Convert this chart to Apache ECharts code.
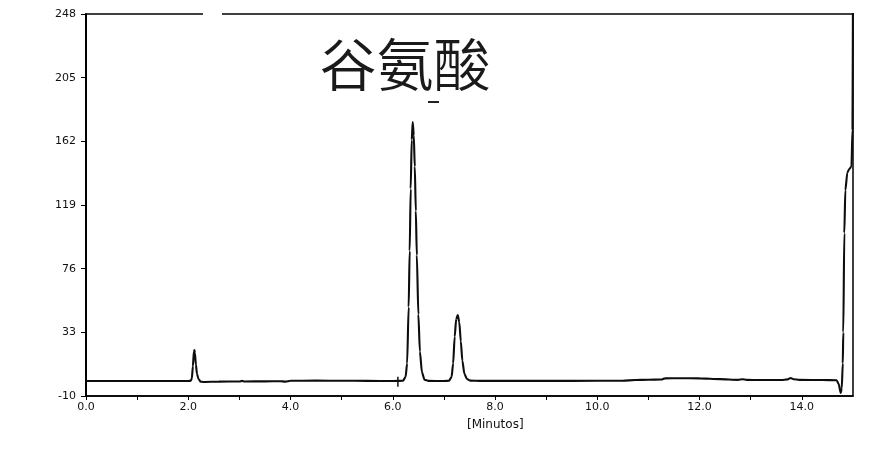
<!DOCTYPE html>
<html>
<head>
<meta charset="utf-8">
<script src="https://cdn.jsdelivr.net/npm/echarts@6/dist/echarts.min.js"></script>
<style>html,body{margin:0;padding:0;background:#fff;}#chart{width:894px;height:454px;}</style>
</head>
<body>
<div id="chart"></div>
<script>
// Retention time (minutes)
var times = [0.00, 0.50, 1.00, 1.50, 2.00, 2.05, 2.07, 2.09, 2.11, 2.12, 2.13, 2.15, 2.17, 2.20, 2.24, 2.30,
  2.60, 3.00, 3.05, 3.10, 3.50, 3.80, 3.90, 4.00, 4.50, 5.00, 5.50, 6.00, 6.20, 6.25, 6.28, 6.31, 6.33, 6.35,
  6.37, 6.39, 6.41, 6.43, 6.45, 6.47, 6.50, 6.53, 6.57, 6.62, 6.70, 7.00, 7.10, 7.15, 7.18, 7.21, 7.24, 7.27,
  7.30, 7.33, 7.36, 7.40, 7.45, 7.52, 7.70, 8.50, 9.50, 10.50, 10.74, 11.00, 11.25, 11.32, 11.60, 12.00, 12.40,
  12.75, 12.84, 12.92, 13.20, 13.60, 13.72, 13.78, 13.84, 13.95, 14.40, 14.68, 14.72, 14.76, 14.78, 14.80,
  14.81, 14.83, 14.85, 14.89, 14.93, 14.97, 14.99, 15.00];
// Detector response
var signal = [0.1, 0.1, 0.1, 0.1, 0.1, 0.3, 2, 10, 20, 21, 19, 11, 5, 1.5, -0.3, -0.5,
  -0.3, -0.2, 0.2, -0.2, -0.1, 0.0, -0.3, 0.3, 0.4, 0.3, 0.2, 0.1, 0.3, 3, 12, 50, 88, 130,
  163, 175, 166, 145, 115, 85, 45, 20, 6, 1, 0.2, 0.1, 0.3, 3, 12, 30, 42, 44.7,
  40, 27, 14, 5, 1.5, 0.4, 0.2, 0.2, 0.2, 0.3, 0.8, 1.0, 1.1, 1.9, 2.0, 1.9, 1.4,
  0.9, 1.3, 0.9, 0.8, 0.8, 1.2, 2.2, 1.3, 0.9, 0.8, 0.6, -2, -8, -5, 12,
  33, 100, 129, 141, 143.5, 145, 170, 270];
// Integration marker
var markerTimes = [6.10, 6.10];
var markerValues = [3.0, -3.7];
// Axis ticks
var yTicks = [-10, 33, 76, 119, 162, 205, 248];
var xLabelTicks = [0, 2, 4, 6, 8, 10, 12, 14];
var xMinorTicks = [0, 1, 2, 3, 4, 5, 6, 7, 8, 9, 10, 11, 12, 13, 14];
var titleText = '谷氨酸';
var xName = '[Minutos]';

var curve = times.map(function (t, i) { return [t, signal[i]]; });
var marker = markerTimes.map(function (t, i) { return [t, markerValues[i]]; });

var chart = echarts.init(document.getElementById('chart'), null, {renderer: 'canvas'});
var labelFont = {fontFamily: 'DejaVu Sans', fontSize: 11, color: '#111'};
chart.setOption({
  animation: false,
  backgroundColor: '#fff',
  grid: {left: 86, right: 41, top: 14, bottom: 58, show: true, borderColor: '#000', borderWidth: 1.5, backgroundColor: 'transparent'},
  xAxis: {
    type: 'value', min: 0, max: 15,
    axisLine: {show: true, onZero: false, lineStyle: {color: '#000', width: 1.5}},
    axisTick: {show: true, length: 4, customValues: xMinorTicks, lineStyle: {color: '#000', width: 1}},
    axisLabel: Object.assign({margin: 6, customValues: xLabelTicks, formatter: function (v) { return v.toFixed(1); }}, labelFont),
    splitLine: {show: false}
  },
  yAxis: {
    type: 'value', min: -10, max: 248,
    axisLine: {show: true, onZero: false, lineStyle: {color: '#000', width: 2}},
    axisTick: {show: true, length: 5, customValues: yTicks, lineStyle: {color: '#000', width: 1}},
    axisLabel: Object.assign({margin: 10, customValues: yTicks}, labelFont),
    splitLine: {show: false}
  },
  series: [
    {type: 'line', data: curve, showSymbol: false, smooth: 0.25, smoothMonotone: 'x',
     lineStyle: {color: '#0d0d0d', width: 2.1}, clip: true, z: 3},
    {type: 'line', data: marker, showSymbol: false, lineStyle: {color: '#111', width: 1.5}, z: 3}
  ],
  graphic: [
    {type: 'rect', left: 203, top: 11, shape: {width: 19, height: 6}, style: {fill: '#fff'}, z: 100},
    {type: 'text', x: 405, y: 64, style: {text: titleText, font: '350 57px "Noto Sans CJK SC"', fill: '#1a1a1a', textAlign: 'center', textVerticalAlign: 'middle'}, z: 100},
    {type: 'rect', left: 428, top: 101, shape: {width: 11, height: 2}, style: {fill: '#222'}, z: 100},
    {type: 'text', left: 467, top: 419, style: {text: xName, font: 'normal 12px "DejaVu Sans"', fill: '#111'}, z: 100}
  ]
});
</script>
</body>
</html>
